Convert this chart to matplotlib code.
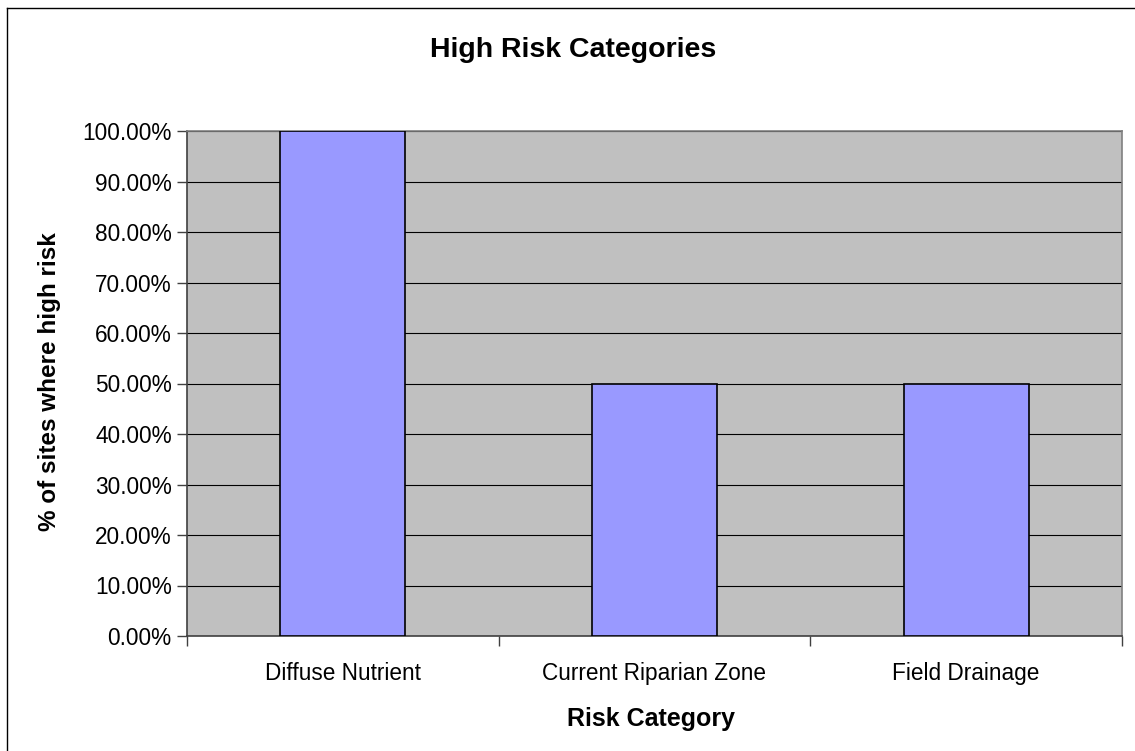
import matplotlib
matplotlib.use("Agg")
import matplotlib.pyplot as plt
from matplotlib.lines import Line2D
from matplotlib.ticker import FuncFormatter, MultipleLocator

categories = ["Diffuse Nutrient", "Current Riparian Zone", "Field Drainage"]
values = [1.0, 0.5, 0.5]

W, H = 1135, 751
plt.rcParams['font.family'] = ['Liberation Sans', 'DejaVu Sans']
fig = plt.figure(figsize=(W / 100, H / 100), dpi=100)
fig.patch.set_facecolor('white')

# chart-area border (only top and left edges fall inside the image)
fig.add_artist(Line2D([6.5 / W, 1.0], [1 - 7.5 / H, 1 - 7.5 / H], transform=fig.transFigure,
                      color='black', lw=1.0))
fig.add_artist(Line2D([6.5 / W, 6.5 / W], [1 - 7.5 / H, 0.0], transform=fig.transFigure,
                      color='black', lw=1.0))

left, right, top, bottom = 187, 1122, 131, 636
ax = fig.add_axes([left / W, 1 - bottom / H, (right - left) / W, (bottom - top) / H])
ax.set_facecolor('#C0C0C0')

x = range(len(categories))
ax.bar(list(x), values, width=0.4, color='#9999FF', edgecolor='black', linewidth=1.2, zorder=3)

ax.set_xlim(-0.5, len(categories) - 0.5)
ax.set_ylim(0, 1.0)
ax.yaxis.set_major_locator(MultipleLocator(0.1))
ax.yaxis.set_major_formatter(FuncFormatter(lambda v, p: f"{v * 100:.2f}%"))
ax.grid(axis='y', color='black', linewidth=0.8, zorder=1)
ax.set_axisbelow(True)

ax.set_xticks([i - 0.5 for i in range(len(categories) + 1)], minor=False)
ax.set_xticklabels([])
ax.set_xticks(list(x), minor=True)
ax.set_xticklabels(categories, minor=True)
ax.tick_params(axis='x', which='minor', length=0, labelsize=16.3, pad=19)
ax.tick_params(axis='x', which='major', length=7, width=1, color='#404040', direction='out')
ax.tick_params(axis='y', length=7, width=1, color='#404040', direction='out', labelsize=16.3, pad=4)

for s in ['top', 'right']:
    ax.spines[s].set_color('#808080')
    ax.spines[s].set_linewidth(1.2)
for s in ['left', 'bottom']:
    ax.spines[s].set_color('#404040')
    ax.spines[s].set_linewidth(1.2)

fig.text(573 / W, 1 - 50 / H, "High Risk Categories", ha='center', va='center',
         fontsize=20.5, fontweight='bold')
fig.text(651 / W, 1 - 719 / H, "Risk Category", ha='center', va='center',
         fontsize=18, fontweight='bold')
fig.text(50 / W, 1 - 382 / H, "% of sites where high risk", ha='center', va='center',
         rotation=90, fontsize=17.5, fontweight='bold')

fig.savefig("out.png", dpi=100)
